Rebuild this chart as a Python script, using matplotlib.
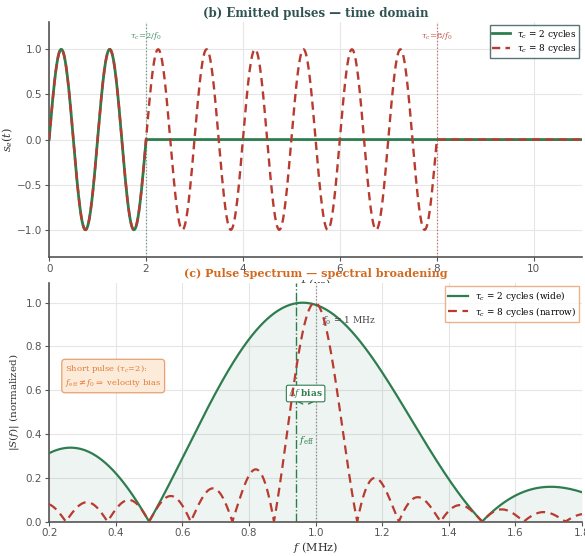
import numpy as np
import matplotlib
matplotlib.use("Agg")
import matplotlib.pyplot as plt

# pulse parameters
F0 = 1.0                      # centre frequency (MHz)
F_EFF = 0.94                  # effective (peak) frequency of the short pulse (MHz)
CYCLES = [2, 8]               # pulse lengths in cycles
T_RANGE = [0.0, 11.0]         # time window (us)
F_RANGE = [0.2, 1.8]          # frequency window (MHz)
LABELS_TIME = [r"$\tau_c$ = 2 cycles", r"$\tau_c$ = 8 cycles"]
LABELS_FREQ = [r"$\tau_c$ = 2 cycles (wide)", r"$\tau_c$ = 8 cycles (narrow)"]

GREEN = "#2e7d4f"
RED = "#b83b30"
TEAL = "#2f5353"
ORANGE = "#d2691e"

plt.rcParams["font.family"] = "DejaVu Serif"
plt.rcParams["mathtext.fontset"] = "dejavuserif"


def pulse(t, n_cycles):
    """Sine burst of n_cycles at F0."""
    return np.where(t < n_cycles / F0, np.sin(2 * np.pi * F0 * t), 0.0)


def spectrum(f, n_cycles):
    """|S(f)| of a sine burst, normalized to its peak."""
    s = F0 * np.abs(np.sin(np.pi * f * n_cycles / F0)) / (np.pi * np.abs(F0**2 - f**2))
    return s / s.max()


def style_axes(ax):
    ax.grid(True, color="#e6e6e6", linewidth=0.8)
    ax.set_axisbelow(True)
    for side in ["top", "right"]:
        ax.spines[side].set_visible(False)
    for side in ["left", "bottom"]:
        ax.spines[side].set_color("#555555")
        ax.spines[side].set_linewidth(1.2)
    ax.tick_params(colors="#555555", labelsize=7.5, length=3, pad=2)
    for lab in ax.get_xticklabels() + ax.get_yticklabels():
        lab.set_family("DejaVu Sans")


def style_legend(leg, edge):
    leg.get_frame().set_edgecolor(edge)
    leg.get_frame().set_linewidth(1.0)


fig = plt.figure(figsize=(5.85, 5.56), dpi=100)
ax1 = fig.add_axes([0.084, 0.538, 0.911, 0.422])
ax2 = fig.add_axes([0.084, 0.062, 0.911, 0.429])

# (b) time domain
t = np.linspace(T_RANGE[0], T_RANGE[1], 3000)
ax1.plot(t, pulse(t, CYCLES[0]), color=GREEN, lw=2.0, label=LABELS_TIME[0], zorder=3)
ax1.plot(t, pulse(t, CYCLES[1]), color=RED, lw=1.7, ls=(0, (3.5, 2.2)),
         label=LABELS_TIME[1], zorder=4)
ax1.axvline(CYCLES[0] / F0, color=GREEN, ls=":", lw=0.9, alpha=0.7)
ax1.axvline(CYCLES[1] / F0, color=RED, ls=":", lw=0.9, alpha=0.7)
ax1.text(CYCLES[0] / F0, 1.08, r"$\tau_c\!=\!2/f_0$", color=GREEN, fontsize=6,
         ha="center", va="bottom", alpha=0.85)
ax1.text(CYCLES[1] / F0, 1.08, r"$\tau_c\!=\!8/f_0$", color=RED, fontsize=6,
         ha="center", va="bottom", alpha=0.85)
ax1.set_xlim(*T_RANGE)
ax1.set_ylim(-1.3, 1.3)
ax1.set_xticks([0, 2, 4, 6, 8, 10])
ax1.set_yticks([-1.0, -0.5, 0.0, 0.5, 1.0])
ax1.set_ylabel(r"$s_e(t)$", fontsize=8, color="#333333")
ax1.yaxis.set_label_coords(-0.064, 0.5)
ax1.set_xlabel(r"$t$ ($\mu$s)", fontsize=8, color="#333333", labelpad=2)
ax1.set_title("(b) Emitted pulses — time domain", fontsize=8.5, fontweight="bold",
              color=TEAL, pad=4)
leg1 = ax1.legend(loc="upper right", fontsize=6.4, frameon=True, fancybox=False,
                  handlelength=2.0, borderpad=0.3, labelspacing=0.15,
                  borderaxespad=0.3)
style_legend(leg1, TEAL)
style_axes(ax1)

# (c) spectrum
f = np.linspace(F_RANGE[0], F_RANGE[1], 2000)
s_short = spectrum(f, CYCLES[0])
s_long = spectrum(f, CYCLES[1])

ax2.fill_between(f, 0, s_short, color=GREEN, alpha=0.08, lw=0)
ax2.plot(f, s_short, color=GREEN, lw=1.6, label=LABELS_FREQ[0], zorder=3)
ax2.plot(f, s_long, color=RED, lw=1.6, ls=(0, (4, 2.5)), label=LABELS_FREQ[1], zorder=4)
ax2.axvline(F_EFF, color=GREEN, ls="-.", lw=1.0)
ax2.axvline(F0, color="#888888", ls=":", lw=0.9)
ax2.text(F0 + 0.02, 0.92, r"$f_0$ = 1 MHz", fontsize=6.5, color="#444444",
         ha="left", va="center")
ax2.text(F_EFF + 0.01, 0.37, r"$f_{\rm eff}$", fontsize=7, color=GREEN,
         ha="left", va="center")
ax2.annotate("", xy=(F_EFF, 0.55), xytext=(F0, 0.55),
             arrowprops=dict(arrowstyle="<->", color=GREEN, lw=1.0,
                             shrinkA=0, shrinkB=0))
ax2.text((F_EFF + F0) / 2, 0.585, r"$\Delta f$ $\mathbf{bias}$", fontsize=6.5,
         color=GREEN, ha="center", va="center",
         bbox=dict(boxstyle="round,pad=0.2", fc="white", ec=GREEN, lw=0.8))
ax2.text(0.03, 0.61, "Short pulse ($\\tau_c$=2):\n$f_{\\rm eff}\\neq f_0 \\Rightarrow$ velocity bias",
         transform=ax2.transAxes, fontsize=6, color="#e07b39", ha="left", va="center",
         linespacing=1.35,
         bbox=dict(boxstyle="round,pad=0.4", fc="#fdebd9", ec="#e8a070", lw=0.9))
ax2.set_xlim(*F_RANGE)
ax2.set_ylim(0, 1.09)
ax2.set_xticks([0.2, 0.4, 0.6, 0.8, 1.0, 1.2, 1.4, 1.6, 1.8])
ax2.set_yticks([0.0, 0.2, 0.4, 0.6, 0.8, 1.0])
ax2.set_xlabel(r"$f$ (MHz)", fontsize=8, color="#333333", labelpad=1)
ax2.set_ylabel(r"$|S(f)|$ (normalized)", fontsize=7.5, color="#333333")
ax2.yaxis.set_label_coords(-0.052, 0.5)
ax2.set_title("(c) Pulse spectrum — spectral broadening", fontsize=8,
              fontweight="bold", color=ORANGE, pad=4)
leg2 = ax2.legend(loc="upper right", fontsize=6.4, frameon=True, fancybox=False,
                  handlelength=2.2, borderpad=0.35, labelspacing=0.2,
                  borderaxespad=0.3)
style_legend(leg2, "#e8a070")
style_axes(ax2)

fig.savefig("out.png", dpi=100)
